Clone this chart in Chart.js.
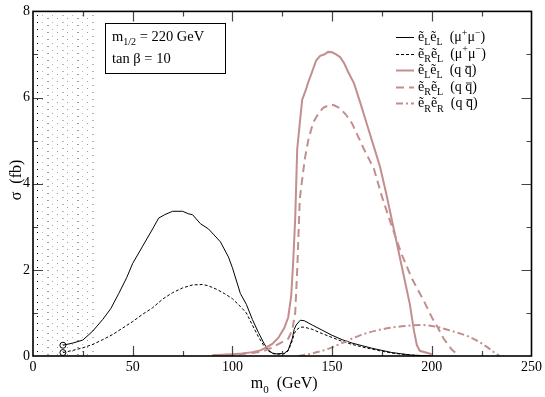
<!DOCTYPE html>
<html>
<head>
<meta charset="utf-8">
<script src="https://cdn.jsdelivr.net/npm/chart.js@4.4.0/dist/chart.umd.min.js"></script>
<style>
  html, body { margin: 0; padding: 0; background: #fff; }
</style>
</head>
<body>
<canvas id="chart" width="545" height="397"></canvas>
<script>
// colours
const ROSY = "#c28e8e";
const SERIF = "'Liberation Serif', 'Times New Roman', serif";

// ẽLẽL (μ+μ-)
const llMuX = [15, 20, 25, 30, 35, 39, 43, 47, 50, 55, 60, 63, 66, 70, 75, 78, 80, 84, 88, 94, 98, 100, 104, 107, 110, 113, 116, 118, 120, 122, 126, 128, 130, 131, 132, 134, 136, 140, 145, 150, 155, 160, 165, 170, 175, 180, 185, 190, 195, 200];
const llMuY = [0.25, 0.3, 0.37, 0.58, 0.85, 1.1, 1.45, 1.82, 2.15, 2.55, 2.95, 3.2, 3.28, 3.36, 3.36, 3.3, 3.28, 3.07, 2.95, 2.65, 2.3, 2.05, 1.45, 1.2, 0.85, 0.55, 0.28, 0.14, 0.07, 0.05, 0.06, 0.14, 0.4, 0.62, 0.72, 0.83, 0.82, 0.72, 0.6, 0.48, 0.38, 0.3, 0.24, 0.18, 0.13, 0.08, 0.05, 0.02, 0.01, 0];

// ẽRẽL (μ+μ-)
const rlMuX = [15, 20, 25, 30, 35, 40, 45, 50, 55, 60, 65, 70, 75, 80, 85, 88, 92, 96, 100, 104, 107, 110, 113, 116, 118, 120, 122, 126, 128, 130, 131, 132, 134, 136, 140, 145, 150, 155, 160, 165, 170, 175, 180, 185, 190, 195, 200];
const rlMuY = [0.08, 0.13, 0.19, 0.27, 0.38, 0.5, 0.65, 0.8, 0.97, 1.12, 1.32, 1.47, 1.58, 1.65, 1.66, 1.63, 1.55, 1.45, 1.33, 1.15, 1.0, 0.72, 0.45, 0.22, 0.12, 0.06, 0.04, 0.05, 0.12, 0.35, 0.52, 0.6, 0.67, 0.67, 0.62, 0.52, 0.43, 0.34, 0.27, 0.21, 0.16, 0.11, 0.07, 0.04, 0.02, 0.01, 0];

// ẽLẽL (q q̄)
const llQX = [90, 95, 100, 105, 110, 114, 117, 120, 123, 126, 128, 129.5, 130.5, 131.5, 132, 132.5, 134, 135, 137, 138, 140, 142, 144, 146, 148, 150, 152, 154, 156, 158, 161, 164, 168, 171, 174, 177, 180, 183, 186, 189, 191, 192.5, 194, 197, 200];
const llQY = [0.02, 0.03, 0.04, 0.06, 0.09, 0.13, 0.2, 0.28, 0.42, 0.65, 0.9, 1.4, 2.2, 3.2, 4.0, 4.8, 5.5, 5.95, 6.2, 6.35, 6.6, 6.86, 6.97, 7.0, 7.06, 7.05, 7.0, 6.94, 6.8, 6.6, 6.33, 5.9, 5.3, 4.85, 4.4, 3.8, 3.15, 2.5, 1.85, 1.2, 0.6, 0.25, 0.12, 0.08, 0.04];

// ẽRẽL (q q̄)
const rlQX = [90, 100, 110, 115, 120, 124, 128, 130, 131.5, 132, 132.6, 133.2, 133.8, 135, 136.3, 138, 140.4, 143, 145.5, 148.7, 151, 154, 157, 160, 163, 166, 171, 175, 180, 185, 190, 196, 200, 203, 206, 210, 213];
const rlQY = [0.02, 0.03, 0.07, 0.1, 0.2, 0.3, 0.4, 0.6, 1.0, 1.5, 2.1, 2.9, 3.65, 4.1, 4.57, 5.0, 5.41, 5.62, 5.76, 5.83, 5.82, 5.75, 5.6, 5.4, 5.1, 4.8, 4.34, 3.7, 3.0, 2.35, 1.8, 1.28, 0.9, 0.66, 0.4, 0.15, 0.03];

// ẽRẽR (q q̄)
const rrQX = [133, 140, 147, 155, 164, 172, 180, 188, 194, 198, 204, 210, 218, 224, 228, 232, 234];
const rrQY = [0, 0.06, 0.15, 0.3, 0.48, 0.59, 0.66, 0.7, 0.72, 0.71, 0.66, 0.58, 0.46, 0.32, 0.2, 0.06, 0];

// 圖例文字片段
const legendRows = [
  { color: "#000", width: 1, dash: [], parts: [["ẽ"], ["L", "sub"], ["ẽ"], ["L", "sub"], ["  (μ"], ["+", "sup"], ["μ"], ["−", "sup"], [")"]] },
  { color: "#000", width: 1, dash: [3, 2], parts: [["ẽ"], ["R", "sub"], ["ẽ"], ["L", "sub"], ["  (μ"], ["+", "sup"], ["μ"], ["−", "sup"], [")"]] },
  { color: ROSY, width: 2, dash: [], parts: [["ẽ"], ["L", "sub"], ["ẽ"], ["L", "sub"], ["  (q "], ["q", "bar"], [")"]] },
  { color: ROSY, width: 2, dash: [8, 5], parts: [["ẽ"], ["R", "sub"], ["ẽ"], ["L", "sub"], ["  (q "], ["q", "bar"], [")"]] },
  { color: ROSY, width: 2, dash: [7, 3, 2, 3], parts: [["ẽ"], ["R", "sub"], ["ẽ"], ["R", "sub"], ["  (q "], ["q", "bar"], [")"]] },
];

const pts = (xs, ys) => xs.map((x, i) => ({ x: x, y: ys[i] }));

// 寫出含上下標的文字
const drawRich = (ctx, x, y, parts, size) => {
  const small = Math.round(size * 0.7);
  ctx.textBaseline = "alphabetic";
  ctx.textAlign = "left";
  parts.forEach(([txt, kind]) => {
    if (kind === "sub" || kind === "sup") {
      ctx.font = `${small}px ${SERIF}`;
      const dy = kind === "sub" ? size * 0.3 : -size * 0.38;
      ctx.fillText(txt, x, y + dy);
      x += ctx.measureText(txt).width;
    } else {
      ctx.font = `${size}px ${SERIF}`;
      ctx.fillText(txt, x, y);
      const w = ctx.measureText(txt).width;
      if (kind === "bar") {
        ctx.save();
        ctx.lineWidth = 0.8;
        ctx.strokeStyle = ctx.fillStyle;
        ctx.beginPath();
        ctx.moveTo(x + 0.5, y - size * 0.56);
        ctx.lineTo(x + w - 0.5, y - size * 0.56);
        ctx.stroke();
        ctx.restore();
      }
      x += w;
    }
  });
  return x;
};

const richWidth = (ctx, parts, size) => {
  let w = 0;
  parts.forEach(([txt, kind]) => {
    const s = kind === "sub" || kind === "sup" ? Math.round(size * 0.7) : size;
    ctx.font = `${s}px ${SERIF}`;
    w += ctx.measureText(txt).width;
  });
  return w;
};

// 點狀陰影區 (m0 < 30 GeV)
const hatchPlugin = {
  id: "hatch",
  beforeDatasetsDraw: (chart) => {
    const ctx = chart.ctx;
    const { top, bottom } = chart.chartArea;
    const xs = chart.scales.x;
    const x0 = xs.getPixelForValue(0);
    const x1 = xs.getPixelForValue(30);
    ctx.save();
    for (let y = top + 4; y < bottom; y += 7) {
      ctx.fillStyle = "#000";
      ctx.fillRect(Math.round(x0 + 4), Math.round(y), 1, 1);
      let col = 0;
      for (let x = x0 + 9; x < x1; x += 5) {
        ctx.fillStyle = col % 2 ? "#9a9a9a" : "#b5b5b5";
        ctx.fillRect(Math.round(x), Math.round(y + (col % 2) * 3), col % 3 === 1 ? 2 : 1, 1);
        col++;
      }
    }
    ctx.restore();
  },
};

// 外框、內向刻度、圖例、註解
const decorPlugin = {
  id: "decor",
  afterDraw: (chart) => {
    const ctx = chart.ctx;
    const { left, right, top, bottom } = chart.chartArea;
    const xs = chart.scales.x;
    const ys = chart.scales.y;
    ctx.save();

    // ticks
    ctx.strokeStyle = "#444";
    ctx.lineWidth = 1.2;
    ctx.beginPath();
    for (let v = 25; v < 250; v += 25) {
      const px = Math.round(xs.getPixelForValue(v)) + 0.5;
      const len = v % 50 === 0 ? 10 : 5;
      ctx.moveTo(px, bottom); ctx.lineTo(px, bottom - len);
      ctx.moveTo(px, top); ctx.lineTo(px, top + len);
    }
    for (let v = 1; v < 8; v += 1) {
      const py = Math.round(ys.getPixelForValue(v)) + 0.5;
      const len = v % 2 === 0 ? 10 : 5;
      ctx.moveTo(left, py); ctx.lineTo(left + len, py);
      ctx.moveTo(right, py); ctx.lineTo(right - len, py);
    }
    ctx.stroke();

    // frame
    ctx.strokeStyle = "#000";
    ctx.lineWidth = 1.6;
    ctx.strokeRect(left, top, right - left, bottom - top);

    // annotation box
    ctx.lineWidth = 1;
    ctx.strokeRect(105.5, 23.5, 120, 50);
    ctx.fillStyle = "#000";
    drawRich(ctx, 112, 41, [["m"], ["1/2", "sub"], [" = 220 GeV"]], 14.5);
    drawRich(ctx, 112, 63, [["tan β = 10"]], 14.5);

    // legend
    legendRows.forEach((row, i) => {
      const cy = 37 + i * 16.6;
      ctx.strokeStyle = row.color;
      ctx.lineWidth = row.width;
      ctx.setLineDash(row.dash);
      ctx.beginPath();
      ctx.moveTo(396, Math.round(cy) + 0.5);
      ctx.lineTo(414, Math.round(cy) + 0.5);
      ctx.stroke();
      ctx.setLineDash([]);
      ctx.fillStyle = "#000";
      drawRich(ctx, 418, cy + 4, row.parts, 14);
    });

    // axis titles
    const xt = [["m"], ["0", "sub"], ["  (GeV)"]];
    const xw = richWidth(ctx, xt, 16);
    drawRich(ctx, (left + right) / 2 - xw / 2 + 2, 388, xt, 16);

    const yt = [["σ  (fb)"]];
    const yw = richWidth(ctx, yt, 16);
    ctx.translate(21, 180);
    ctx.rotate(-Math.PI / 2);
    drawRich(ctx, -yw / 2, 0, yt, 16);

    ctx.restore();
  },
};

const blackPoint = (ctx) => (ctx.dataIndex === 0 ? 3 : 0);

const chart = new Chart(document.getElementById("chart"), {
  type: "line",
  data: {
    datasets: [
      {
        label: "eLeL qq",
        data: pts(llQX, llQY),
        borderColor: ROSY,
        borderWidth: 2,
        pointRadius: 0,
      },
      {
        label: "eReL qq",
        data: pts(rlQX, rlQY),
        borderColor: ROSY,
        borderWidth: 2,
        borderDash: [8, 5],
        pointRadius: 0,
      },
      {
        label: "eReR qq",
        data: pts(rrQX, rrQY),
        borderColor: ROSY,
        borderWidth: 2,
        borderDash: [7, 3, 2, 3],
        pointRadius: 0,
        cubicInterpolationMode: "monotone",
      },
      {
        label: "eLeL mumu",
        data: pts(llMuX, llMuY),
        borderColor: "#000",
        borderWidth: 1,
        pointRadius: blackPoint,
        pointBorderColor: "#000",
        pointBackgroundColor: "rgba(0,0,0,0)",
        pointBorderWidth: 1,
      },
      {
        label: "eReL mumu",
        data: pts(rlMuX, rlMuY),
        borderColor: "#000",
        borderWidth: 1,
        borderDash: [3, 2],
        pointRadius: blackPoint,
        pointBorderColor: "#000",
        pointBackgroundColor: "rgba(0,0,0,0)",
        pointBorderWidth: 1,
      },
    ],
  },
  options: {
    responsive: false,
    animation: false,
    layout: { padding: { top: 6, right: 13, left: 0, bottom: 0 } },
    plugins: {
      legend: { display: false },
      tooltip: { enabled: false },
    },
    scales: {
      x: {
        type: "linear",
        min: 0,
        max: 250,
        grid: { display: false, drawTicks: false },
        border: { display: false },
        ticks: {
          stepSize: 25,
          autoSkip: false,
          maxRotation: 0,
          padding: 3,
          color: "#000",
          font: { family: SERIF, size: 14 },
          callback: (v) => (v % 50 === 0 ? v : ""),
        },
        afterFit: (s) => { s.height = 41; },
      },
      y: {
        type: "linear",
        min: 0,
        max: 8,
        grid: { display: false, drawTicks: false },
        border: { display: false },
        ticks: {
          stepSize: 1,
          autoSkip: false,
          padding: 3,
          color: "#000",
          font: { family: SERIF, size: 14 },
          callback: (v) => (v % 2 === 0 ? v : ""),
        },
        afterFit: (s) => { s.width = 33; },
      },
    },
  },
  plugins: [hatchPlugin, decorPlugin],
});
</script>
</body>
</html>
